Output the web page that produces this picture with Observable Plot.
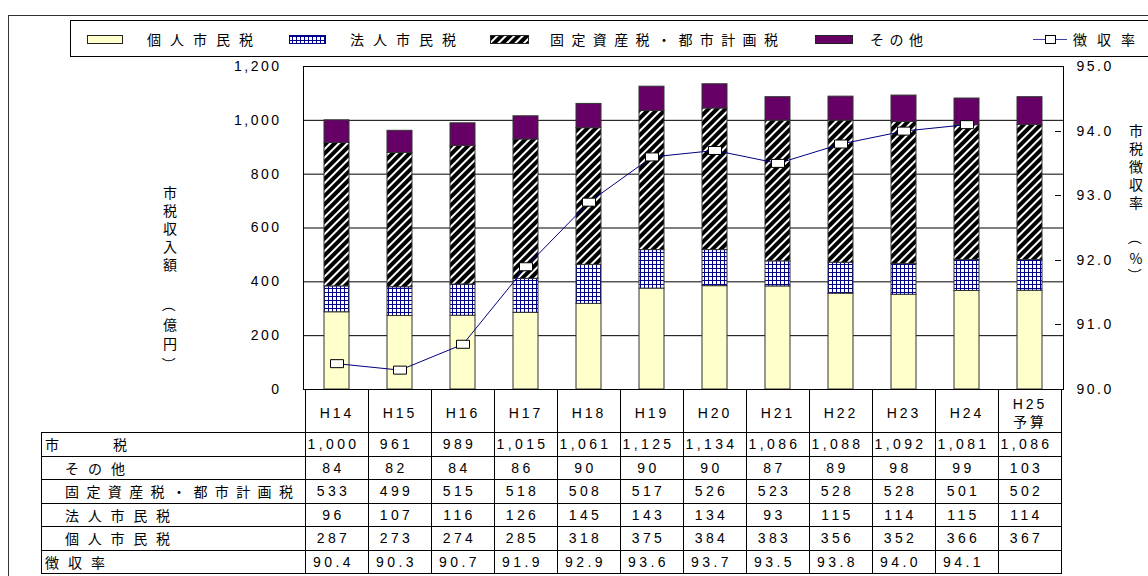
<!DOCTYPE html>
<html><head><meta charset="utf-8">
<script src="https://cdn.jsdelivr.net/npm/d3@7"></script>
<script src="https://cdn.jsdelivr.net/npm/@observablehq/plot@0.6"></script>
<style>
html,body{margin:0;padding:0;background:#fff;}
#chart svg{display:block;}
g[aria-label="y-axis tick label"] text{letter-spacing:2.5px;}
g[aria-label="x-axis tick label"] text{letter-spacing:3px;}
.jp{font-family:"Noto Sans CJK JP",sans-serif;}
.num{font-family:"Liberation Sans","Noto Sans CJK JP",sans-serif;letter-spacing:3.4px;}
</style></head><body><div id="chart"></div>
<script>
// ---- data ----
const years = ["H14","H15","H16","H17","H18","H19","H20","H21","H22","H23","H24","H25\n予算"];
const seriesNames = ["個人市民税","法人市民税","固定資産税・都市計画税","その他"];
const individualTax = [287,273,274,285,318,375,384,383,356,352,366,367];
const corporateTax  = [96,107,116,126,145,143,134,93,115,114,115,114];
const propertyTax   = [533,499,515,518,508,517,526,523,528,528,501,502];
const otherTax      = [84,82,84,86,90,90,90,87,89,98,99,103];
const totalTax      = [1000,961,989,1015,1061,1125,1134,1086,1088,1092,1081,1086];
const collectionRate = [90.4,90.3,90.7,91.9,92.9,93.6,93.7,93.5,93.8,94.0,94.1,null];
const leftTicks = [0,200,400,600,800,1000,1200];
const rightTicks = [90,91,92,93,94,95];
const rowLabels = ["市　　税","その他","固定資産税・都市計画税","法人市民税","個人市民税","徴収率"];

// ---- derived tables ----
const seriesValues = [individualTax, corporateTax, propertyTax, otherTax];
const barData = seriesNames.flatMap((s, i) => years.map((y, j) => ({year: y, series: s, value: seriesValues[i][j]})));
const rateData = years.map((y, j) => ({year: y, rate: collectionRate[j]})).filter(d => d.rate != null);
const rateToY = r => (r - 90) / 5 * 1200;
const rectSymbol = {draw(ctx) { ctx.rect(-6.5, -4, 13, 8); }};

const chart = Plot.plot({
  width: 1148, height: 576,
  marginTop: 66, marginBottom: 187, marginLeft: 303, marginRight: 85,
  style: {fontFamily: "'Liberation Sans','Noto Sans CJK JP',sans-serif", fontSize: "14px", color: "#000", background: "#fff", overflow: "visible"},
  x: {domain: years, paddingInner: 0.605, paddingOuter: 0.3025, label: null},
  y: {domain: [0, 1200], label: null},
  color: {domain: seriesNames, range: ["#ffffcc", "url(#gridPat)", "url(#hatchPat)", "#660066"]},
  marks: [
    Plot.gridY(leftTicks.filter(v => v > 0 && v < 1200), {stroke: "#000", strokeOpacity: 1, strokeWidth: 1}),
    Plot.barY(barData, {x: "year", y: "value", fill: "series", order: seriesNames, stroke: "#333", strokeWidth: 1}),
    Plot.line(rateData, {x: "year", y: d => rateToY(d.rate), stroke: "#000080", strokeWidth: 1}),
    Plot.dot(rateData, {x: "year", y: d => rateToY(d.rate), symbol: rectSymbol, fill: "#fff", stroke: "#000", strokeWidth: 1}),
    Plot.frame({stroke: "#000"}),
    Plot.axisY(leftTicks, {anchor: "left", tickSize: 0, tickPadding: 22, tickFormat: d3.format(","), label: null}),
    Plot.axisY(rightTicks.map(rateToY), {anchor: "right", tickSize: 0, tickPadding: 13, tickFormat: v => (90 + v / 240).toFixed(1), label: null}),
    Plot.axisX({anchor: "bottom", tickSize: 0, tickPadding: 23, lineAnchor: "middle", lineHeight: 1.3, label: null})
  ]
});
document.getElementById("chart").appendChild(chart);

const svg = d3.select(chart);
const xs = chart.scale("x"), ys = chart.scale("y");
const step = xs.step, bw = xs.bandwidth;
const colLeft = y => xs.apply(y) - (step - bw) / 2;
const plotRight = colLeft(years[years.length - 1]) + step;
const plotBottom = ys.apply(0);

// patterns
const defs = svg.insert("defs", ":first-child");
const gp = defs.append("pattern").attr("id", "gridPat").attr("patternUnits", "userSpaceOnUse").attr("width", 4).attr("height", 4);
gp.append("rect").attr("width", 4).attr("height", 4).attr("fill", "#fff");
gp.append("path").attr("d", "M0,0.5H4M0.5,0V4").attr("stroke", "#00008b").attr("stroke-width", 1);
const hp = defs.append("pattern").attr("id", "hatchPat").attr("patternUnits", "userSpaceOnUse").attr("width", 6).attr("height", 6).attr("patternTransform", "rotate(45)");
hp.append("rect").attr("width", 6).attr("height", 6).attr("fill", "#fff");
hp.append("rect").attr("width", 4).attr("height", 6).attr("fill", "#000");

// right axis inward ticks
const tk = svg.append("g");
rightTicks.slice(1, -1).forEach(r => {
  const yy = Math.round(ys.apply(rateToY(r))) + 0.5;
  tk.append("line").attr("x1", plotRight - 6).attr("x2", plotRight).attr("y1", yy).attr("y2", yy).attr("stroke", "#000");
});

// outer frame & legend box
svg.append("rect").attr("x", 8.5).attr("y", 15.5).attr("width", 1160).attr("height", 600).attr("fill", "none").attr("stroke", "#333");
svg.append("rect").attr("x", 70.5).attr("y", 20.5).attr("width", 1100).attr("height", 36).attr("fill", "none").attr("stroke", "#000");

// legend
const lg = svg.append("g").attr("text-anchor", "start");
const legendFills = ["#ffffcc", "url(#gridPat)", "url(#hatchPat)", "#660066"];
const legendSw = [[87, 35], [289, 36], [490, 38], [815, 37]];
const legendTx = [[147, 106], [350, 106], [550, 228], [870, 53]];
seriesNames.forEach((s, i) => {
  lg.append("rect").attr("x", legendSw[i][0] + 0.5).attr("y", 35.5).attr("width", legendSw[i][1]).attr("height", 8)
    .attr("fill", legendFills[i]).attr("stroke", i === 1 ? "#00008b" : "#222");
  lg.append("text").attr("class", "jp").attr("x", legendTx[i][0]).attr("y", 39).attr("dominant-baseline", "central")
    .attr("text-anchor", "start").attr("font-size", 14).attr("textLength", legendTx[i][1]).attr("lengthAdjust", "spacing").text(s);
});
lg.append("line").attr("x1", 1033).attr("x2", 1067).attr("y1", 39.5).attr("y2", 39.5).attr("stroke", "#4040a0");
lg.append("rect").attr("x", 1045.5).attr("y", 35.5).attr("width", 10).attr("height", 8).attr("fill", "#fff").attr("stroke", "#000");
lg.append("text").attr("class", "jp").attr("x", 1073).attr("y", 39).attr("dominant-baseline", "central")
  .attr("text-anchor", "start").attr("font-size", 14).attr("textLength", 62).attr("lengthAdjust", "spacing").text("徴収率");

// axis titles, stacked one character per line; brackets turned as in vertical writing
const vtitle = (chars, x, centers) => {
  const g = svg.append("g").attr("class", "jp").attr("font-size", 14).attr("text-anchor", "middle");
  chars.forEach((c, i) => {
    const t = g.append("text").attr("x", x).attr("y", centers[i]).attr("dominant-baseline", "central").text(c);
    if (c === "（" || c === "）") t.attr("transform", `rotate(90,${x},${centers[i]})`);
  });
};
vtitle(["市","税","収","入","額"], 170, [192, 210, 228, 246, 264]);
vtitle(["（","億","円","）"], 170, [305, 324, 343, 364]);
vtitle(["市","税","徴","収","率"], 1136, [130, 148, 166, 184, 202]);
vtitle(["（","%","）"], 1136, [238, 258, 275]);

// data table
const rowEdges = [432.5, 456, 479.5, 503, 526.5, 550, 573.5];
const tableLeft = 41;
const tb = svg.append("g").attr("shape-rendering", "crispEdges").attr("stroke", "#000");
rowEdges.forEach(e => tb.append("line").attr("x1", tableLeft).attr("x2", plotRight).attr("y1", e).attr("y2", e));
tb.append("line").attr("x1", tableLeft).attr("x2", tableLeft).attr("y1", rowEdges[0]).attr("y2", rowEdges[6]);
years.forEach(y => tb.append("line").attr("x1", colLeft(y)).attr("x2", colLeft(y)).attr("y1", plotBottom).attr("y2", rowEdges[6]));
tb.append("line").attr("x1", plotRight).attr("x2", plotRight).attr("y1", plotBottom).attr("y2", rowEdges[6]);

const rowValues = [totalTax, otherTax, propertyTax, corporateTax, individualTax, collectionRate];
const rowFmt = [d3.format(","), d3.format(","), d3.format(","), d3.format(","), d3.format(","), v => v.toFixed(1)];
const labelX = [45, 65, 65, 65, 65, 45];
const labelLen = [82, 60, 228, 105, 105, 60];
const tt = svg.append("g");
rowLabels.forEach((lab, i) => {
  const cy = (rowEdges[i] + rowEdges[i + 1]) / 2;
  tt.append("text").attr("class", "jp").attr("x", labelX[i]).attr("y", cy).attr("dominant-baseline", "central")
    .attr("text-anchor", "start").attr("font-size", 14).attr("textLength", labelLen[i]).attr("lengthAdjust", "spacing").text(lab);
  years.forEach((y, j) => {
    const v = rowValues[i][j];
    if (v == null) return;
    tt.append("text").attr("class", "num").attr("x", colLeft(y) + step / 2 - 3).attr("y", cy).attr("dominant-baseline", "central")
      .attr("text-anchor", "middle").attr("font-size", 14).text(rowFmt[i](v));
  });
});
</script></body></html>
